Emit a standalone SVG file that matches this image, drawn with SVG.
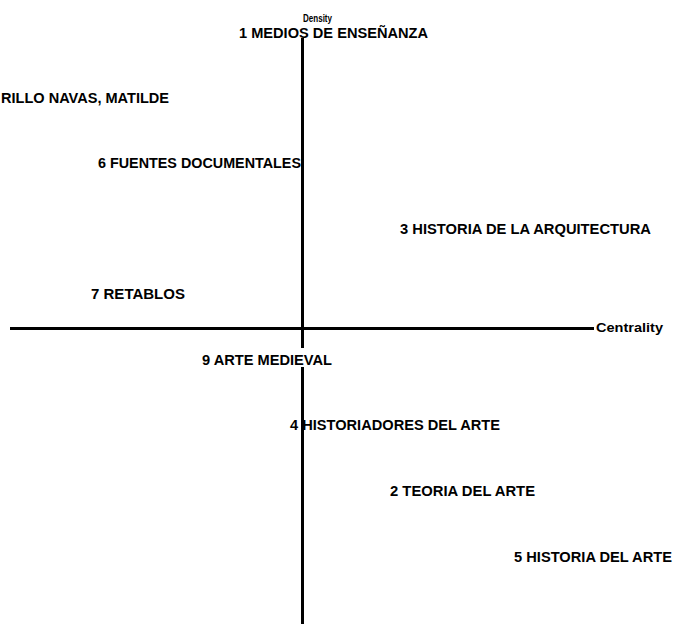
<svg xmlns="http://www.w3.org/2000/svg" width="675" height="624" viewBox="0 0 675 624">
<style>
.lbl{font-family:"Liberation Sans",Arial,sans-serif;font-weight:bold;font-size:14.5px;fill:#000}
.axl{font-family:"Liberation Sans",Arial,sans-serif;font-weight:bold;fill:#000}
.axis{stroke:#000;stroke-width:3;fill:none}
.bg{fill:#fff}
</style>
<rect width="675" height="624" fill="#fff"/>
<g id="connectors">
<line class="axis" x1="10" y1="328.5" x2="594" y2="328.5"/>
<line class="axis" x1="302.5" y1="38" x2="302.5" y2="624"/>
</g>
<g id="axis-density"><text class="axl" x="303" y="21.5" font-size="11.5" textLength="29" lengthAdjust="spacingAndGlyphs">Density</text></g>
<g id="axis-centrality"><text class="axl" x="596" y="331.5" font-size="13.5" textLength="67" lengthAdjust="spacingAndGlyphs">Centrality</text></g>
<g id="node-1"><rect class="bg" x="236" y="24" width="196" height="14"/><text class="lbl" x="239" y="37.5" textLength="189" lengthAdjust="spacingAndGlyphs">1 MEDIOS DE ENSEÑANZA</text></g>
<g id="node-8"><text class="lbl" x="1" y="103" textLength="168" lengthAdjust="spacingAndGlyphs">RILLO NAVAS, MATILDE</text></g>
<g id="node-6"><text class="lbl" x="98" y="168" textLength="203" lengthAdjust="spacingAndGlyphs">6 FUENTES DOCUMENTALES</text></g>
<g id="node-3"><text class="lbl" x="400" y="234" textLength="251" lengthAdjust="spacingAndGlyphs">3 HISTORIA DE LA ARQUITECTURA</text></g>
<g id="node-7"><text class="lbl" x="91" y="299" textLength="94" lengthAdjust="spacingAndGlyphs">7 RETABLOS</text></g>
<g id="node-9"><rect class="bg" x="200" y="348" width="134" height="19"/><text class="lbl" x="202" y="365" textLength="130" lengthAdjust="spacingAndGlyphs">9 ARTE MEDIEVAL</text></g>
<g id="node-4"><text class="lbl" x="290" y="430" textLength="210" lengthAdjust="spacingAndGlyphs">4 HISTORIADORES DEL ARTE</text></g>
<g id="node-2"><text class="lbl" x="390" y="496" textLength="145" lengthAdjust="spacingAndGlyphs">2 TEORIA DEL ARTE</text></g>
<g id="node-5"><text class="lbl" x="514" y="562" textLength="158" lengthAdjust="spacingAndGlyphs">5 HISTORIA DEL ARTE</text></g>
</svg>
